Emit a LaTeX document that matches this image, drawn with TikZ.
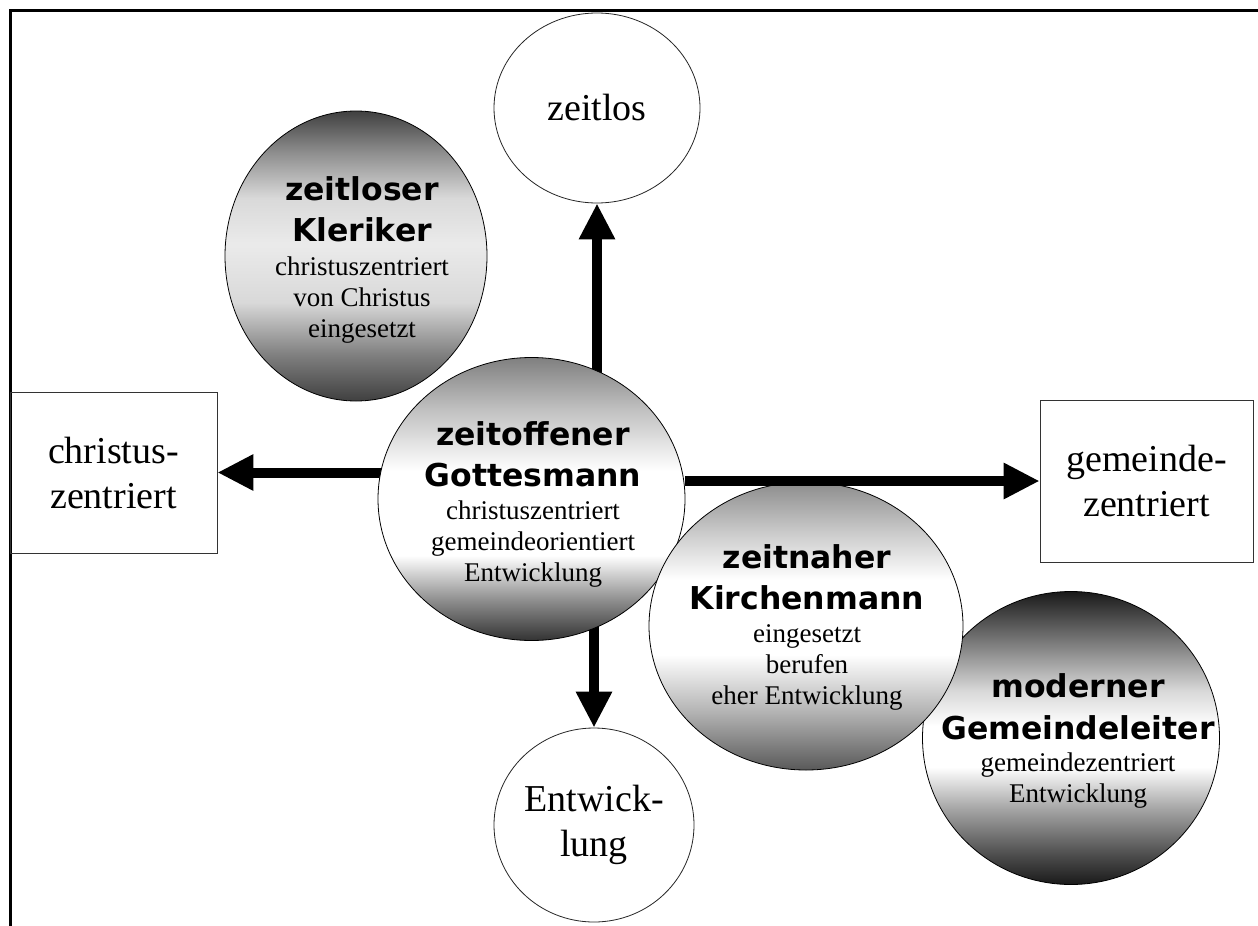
\documentclass[tikz,border=0pt]{standalone}
\usepackage{fontspec}
\setmainfont{Liberation Serif}
\newfontfamily\dvsans{DejaVu Sans}
\usetikzlibrary{shapes.geometric,arrows.meta,backgrounds}
\newcommand\heavysans{\dvsans\bfseries\fontsize{31.5}{31}\selectfont}
\pgfdeclareverticalshading{shK}{100bp}{color(0bp)=(black!75); color(25bp)=(black!75); color(33bp)=(black!50); color(42bp)=(black!15); color(52bp)=(black!8); color(60bp)=(black!15); color(68bp)=(black!45); color(75bp)=(black!75); color(100bp)=(black!75)}
\pgfdeclareverticalshading{shG}{100bp}{color(0bp)=(black!80); color(25bp)=(black!80); color(32bp)=(black!45); color(40bp)=(white); color(55bp)=(white); color(66bp)=(black!25); color(75bp)=(black!50); color(100bp)=(black!50)}
\pgfdeclareverticalshading{shN}{100bp}{color(0bp)=(black!65); color(25bp)=(black!65); color(35bp)=(black!30); color(45bp)=(white); color(58bp)=(white); color(66bp)=(black!20); color(75bp)=(black!45); color(100bp)=(black!45)}
\pgfdeclareverticalshading{shM}{100bp}{color(0bp)=(black!90); color(25bp)=(black!90); color(30bp)=(black!70); color(38bp)=(black!35); color(45bp)=(white); color(52bp)=(white); color(58bp)=(black!15); color(67bp)=(black!55); color(75bp)=(black!90); color(100bp)=(black!90)}
\tikzset{
  ball/.style={ellipse, draw=black, line width=0.8pt, inner sep=0pt, shade},
  txt/.style={align=center, inner sep=0pt, font=\fontsize{27}{31}\selectfont},
  bigtxt/.style={align=center, font=\fontsize{38}{45}\selectfont},
  endcircle/.style={ellipse, draw=black!85, line width=0.8pt, inner sep=0pt, fill=white, bigtxt},
  endbox/.style={rectangle, draw=black!80, line width=0.8pt, inner sep=0pt, bigtxt},
  arr/.style={line width=10pt, -{Triangle[length=36pt,width=34pt]}},
  frameline/.style={line width=3pt}
}
\begin{document}
\begin{tikzpicture}[x=1pt,y=1pt]
\useasboundingbox (0,0) rectangle (1258,-926);
% circles
\node[ball, shading=shM, minimum width=297pt, minimum height=293pt] (gem2) at (1071,-738) {};
\node[ball, shading=shG, minimum width=307pt, minimum height=283pt] (gott) at (531.5,-499) {};
\node[ball, shading=shN, minimum width=314pt, minimum height=288pt] (kirch) at (806,-626) {};
\node[ball, shading=shK, minimum width=262pt, minimum height=290pt] (kler) at (356,-256) {};
\node[endcircle, minimum width=206pt, minimum height=190pt] (zeitlos) at (597,-108) {zeitlos};
\node[endcircle, minimum width=200pt, minimum height=194pt] (entw) at (594,-825) {Entwick-\\lung};
\node[endbox, minimum width=207pt, minimum height=161pt] (chr) at (113.5,-472.5) {christus-\\zentriert};
\node[endbox, minimum width=213pt, minimum height=162pt] (gem) at (1146.5,-481) {gemeinde-\\zentriert};
% texts
\node[txt] (klerT) at (362,-260) {{\heavysans zeitloser}\\[10pt]{\heavysans Kleriker}\\[3pt]christuszentriert\\von Christus\\eingesetzt};
\node[txt] (gottT) at (533,-504) {{\heavysans zeitoffener}\\[10pt]{\heavysans Gottesmann}\\[2pt]christuszentriert\\gemeindeorientiert\\Entwicklung};
\node[txt] (kirchT) at (807,-627) {{\heavysans zeitnaher}\\[10pt]{\heavysans Kirchenmann}\\[2pt]eingesetzt\\berufen\\eher Entwicklung};
\node[txt] (gem2T) at (1078,-741) {{\heavysans moderner}\\[11pt]{\heavysans Gemeindeleiter}\\[1pt]gemeindezentriert\\Entwicklung};
% arrows
\begin{scope}[on background layer]
\draw[frameline] (1258,-10.3) -- (10.3,-10.3) -- (10.3,-926);
\draw[arr] (zeitlos.south |- gott.center) -- (zeitlos.south);
\draw[arr] (entw.north |- gott.center) -- (entw.north);
\draw[arr] (gott.center |- chr.east) -- (chr.east);
\end{scope}
\draw[arr] (gott.east |- gem.west) -- (gem.west);
\end{tikzpicture}
\end{document}
